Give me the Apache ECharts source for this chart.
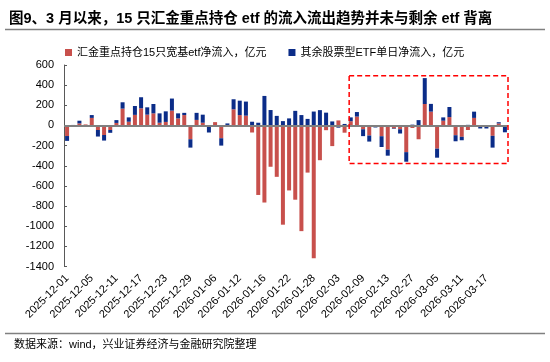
<!DOCTYPE html>
<html><head><meta charset="utf-8">
<script src="https://cdn.jsdelivr.net/npm/echarts@6/dist/echarts.min.js"></script>
<style>html,body{margin:0;padding:0;background:#fff}#c{width:550px;height:362px}</style>
</head><body><div id="c"></div>
<script>
const FONT = '"Liberation Sans", Arial, "Noto Sans CJK SC", sans-serif';
const titleText = '图9、3 月以来，15 只汇金重点持仓 etf 的流入流出趋势并未与剩余 etf 背离';
const sourceText = '数据来源：wind，兴业证券经济与金融研究院整理';
const seriesNames = ['汇金重点持仓15只宽基etf净流入，亿元', '其余股票型ETF单日净流入，亿元'];
const dates = [
 '2025-12-01','2025-12-02','2025-12-03','2025-12-04','2025-12-05','2025-12-08','2025-12-09','2025-12-10','2025-12-11','2025-12-12',
 '2025-12-15','2025-12-16','2025-12-17','2025-12-18','2025-12-19','2025-12-22','2025-12-23','2025-12-24','2025-12-25','2025-12-26',
 '2025-12-29','2025-12-30','2025-12-31','2026-01-05','2026-01-06','2026-01-07','2026-01-08','2026-01-09','2026-01-12','2026-01-13',
 '2026-01-14','2026-01-15','2026-01-16','2026-01-19','2026-01-20','2026-01-21','2026-01-22','2026-01-23','2026-01-26','2026-01-27',
 '2026-01-28','2026-01-29','2026-01-30','2026-02-02','2026-02-03','2026-02-04','2026-02-05','2026-02-06','2026-02-09','2026-02-10',
 '2026-02-11','2026-02-12','2026-02-13','2026-02-24','2026-02-25','2026-02-26','2026-02-27','2026-03-02','2026-03-03','2026-03-04',
 '2026-03-05','2026-03-06','2026-03-09','2026-03-10','2026-03-11','2026-03-12','2026-03-13','2026-03-16','2026-03-17','2026-03-18',
 '2026-03-19','2026-03-20'];
const huijinFlow = [
 -105, 0, 20, 10, 75, -45, -95, -45, 25, 167,
 37, 105, 170, 107, 120, 27, 35, 147, 70, 103,
 -137, 55, 27, -5, 33, -127, 5, 160, 103, 97,
 -70, -690, -765, -410, -510, -985, -645, -737, -1049, -468,
 -1317, -345, -47, -205, 50, -72, 42, 88, -38, -100,
 0, -107, -240, -30, -38, -265, -25, -137, 213, 137,
 -230, 47, 83, -97, -113, -45, 75, 3, 3, -103,
 20, 0];
const otherFlow = [
 -48, 5, 27, 0, 28, -65, -55, -28, 28, 63,
 43, 88, 110, 73, 93, 93, 105, 120, 50, 22,
 -83, 70, 80, -65, 0, -73, 15, 100, 143, 140,
 37, 27, 293, 153, 95, 43, 70, 145, 103, 65,
 138, 152, 127, 40, -22, 15, 38, 45, -68, -60,
 -20, -107, -60, -5, -42, -95, 8, 53, 257, 77,
 -90, 33, 100, -60, -34, 6, 62, -30, -30, -117,
 12, -68];
const yTicks = {min: -1400, max: 600, interval: 200};
// highlighted window (category index range and value range)
const boxFrom = 46, boxTo = 71, boxTop = 493, boxBottom = -378;

const chart = echarts.init(document.getElementById('c'));
const staticGraphics = [
  {type: 'line', shape: {x1: 5, y1: 29.5, x2: 545, y2: 29.5}, style: {stroke: '#808080', lineWidth: 1.5}},
  {type: 'line', shape: {x1: 5, y1: 333.5, x2: 545, y2: 333.5}, style: {stroke: '#808080', lineWidth: 1.5}},
  {type: 'text', left: 14, top: 339, style: {text: sourceText, fill: '#000', font: '11px ' + FONT}}
];
chart.setOption({
  animation: false,
  textStyle: {fontFamily: FONT},
  title: {text: titleText, left: 4, top: 7,
    textStyle: {fontSize: 14.5, fontWeight: 'bold', color: '#000', fontFamily: FONT}},
  legend: {left: 60, top: 42, itemWidth: 7, itemHeight: 7, icon: 'rect', itemGap: 22,
    textStyle: {fontSize: 11, color: '#000', fontFamily: FONT},
    data: seriesNames},
  grid: {left: 64, right: 42, top: 65, bottom: 95.5, containLabel: false},
  xAxis: {type: 'category', data: dates,
    axisLine: {show: false, onZero: false}, axisTick: {show: false},
    axisLabel: {interval: 3, rotate: 45, fontSize: 11, color: '#000', margin: 10, fontFamily: FONT}},
  yAxis: {type: 'value', min: yTicks.min, max: yTicks.max, interval: yTicks.interval,
    axisLine: {show: true, lineStyle: {color: '#595959', width: 1}},
    axisTick: {show: true, inside: true, length: 3, lineStyle: {color: '#595959'}},
    axisLabel: {fontSize: 11, color: '#000', margin: 10, fontFamily: FONT, formatter: v => String(v)},
    splitLine: {show: false}},
  series: [
    {name: seriesNames[0], type: 'bar', stack: 'a', data: huijinFlow, barWidth: 4,
     itemStyle: {color: '#C8504C'},
     markLine: {silent: true, symbol: 'none', label: {show: false},
       lineStyle: {color: '#808080', width: 2, type: 'solid'}, data: [{yAxis: 0}]}},
    {name: seriesNames[1], type: 'bar', stack: 'a', data: otherFlow, barWidth: 4,
     itemStyle: {color: '#0B2C88'}}
  ],
  graphic: staticGraphics
});
const p0 = chart.convertToPixel({xAxisIndex: 0, yAxisIndex: 0}, [boxFrom - 1, boxTop]);
const p1 = chart.convertToPixel({xAxisIndex: 0, yAxisIndex: 0}, [boxFrom, boxTop]);
const p2 = chart.convertToPixel({xAxisIndex: 0, yAxisIndex: 0}, [boxTo, boxBottom]);
const band = p1[0] - p0[0];
const x0 = (p0[0] + p1[0]) / 2 + 1.5, x1 = p2[0] + band / 2;
chart.setOption({graphic: staticGraphics.concat([
  {type: 'rect', z: 100, shape: {x: x0, y: p0[1], width: x1 - x0, height: p2[1] - p0[1]},
   style: {fill: 'none', stroke: '#FF0000', lineWidth: 1.5, lineDash: [5, 3]}}
])}, {replaceMerge: ['graphic']});
</script></body></html>
